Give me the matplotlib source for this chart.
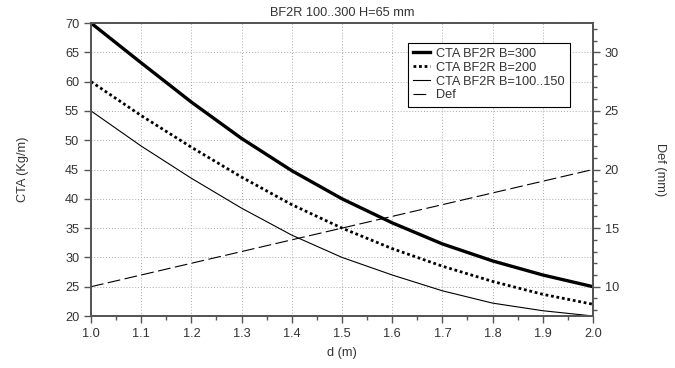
import numpy as np
import matplotlib.pyplot as plt

plt.rcParams['font.family'] = ['Liberation Sans', 'DejaVu Sans']
plt.rcParams['font.size'] = 9.2
plt.rcParams['text.color'] = '#333333'
plt.rcParams['axes.labelcolor'] = '#333333'

# data
d = [1.0, 1.1, 1.2, 1.3, 1.4, 1.5, 1.6, 1.7, 1.8, 1.9, 2.0]
cta_300 = [70.0, 63.2, 56.5, 50.3, 44.8, 40.0, 35.9, 32.3, 29.4, 27.0, 25.0]
cta_200 = [60.0, 54.2, 48.8, 43.7, 39.0, 35.0, 31.5, 28.5, 25.9, 23.7, 22.0]
cta_100 = [55.0, 49.0, 43.5, 38.4, 33.8, 30.0, 27.0, 24.3, 22.2, 20.9, 20.0]
deflection = [10, 11, 12, 13, 14, 15, 16, 17, 18, 19, 20]

fig = plt.figure(figsize=(6.75, 3.68), dpi=100)
ax = fig.add_axes([0.1348, 0.1413, 0.7437, 0.7962])
ax2 = ax.twinx()

l1, = ax.plot(d, cta_300, color='black', lw=2.4, label='CTA BF2R B=300')
l2, = ax.plot(d, cta_200, color='black', lw=2.0, ls=(0, (1, 1)), label='CTA BF2R B=200')
l3, = ax.plot(d, cta_100, color='black', lw=0.8, label='CTA BF2R B=100..150')
l4, = ax2.plot(d, deflection, color='black', lw=0.8, ls=(0, (11.5, 4)), label='Def')

ax.set_xlim(1.0, 2.0)
ax.set_ylim(20, 70)
ax2.set_ylim(7.5, 32.5)

ax.set_xticks(np.arange(1.0, 2.01, 0.1))
ax.set_xticks(np.arange(1.05, 2.0, 0.1), minor=True)
ax.set_yticks(np.arange(20, 71, 5))
ax2.set_yticks(np.arange(10, 31, 5))
ax2.set_yticks(np.arange(8, 33, 1), minor=True)

ax.xaxis.set_major_formatter(plt.FormatStrFormatter('%.1f'))
ax.grid(True, which='major', color='#aaaaaa', ls=(0, (1, 2)), lw=0.7)

for a in (ax, ax2):
    for s in a.spines.values():
        s.set_color('#555555')
        s.set_linewidth(1.3)
    a.tick_params(which='both', direction='out', color='#555555', labelcolor='#333333', width=1.0)
    a.tick_params(which='major', length=5)
    a.tick_params(which='minor', length=3)

ax.set_xlabel('d (m)', labelpad=5)
ax.set_ylabel('CTA (Kg/m)', labelpad=26)
ax2.set_ylabel('Def (mm)', rotation=-90, labelpad=34)
ax.set_title('BF2R 100..300 H=65 mm', fontsize=9.2, pad=5)

leg = ax.legend(handles=[l1, l2, l3, l4], loc='upper right',
                bbox_to_anchor=(0.967, 0.955), fancybox=False, framealpha=1,
                edgecolor='black', handlelength=1.3, handletextpad=0.5,
                borderpad=0.4, labelspacing=0.15)
leg.get_frame().set_linewidth(0.8)

fig.savefig('out.png', dpi=100)
